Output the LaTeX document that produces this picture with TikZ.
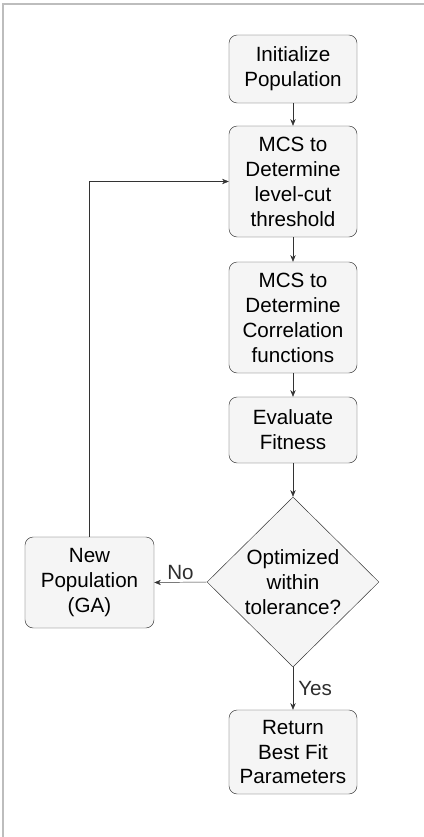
\documentclass[tikz,border=0pt]{standalone}
\usepackage{fontspec}
\setmainfont{Liberation Sans}
\usetikzlibrary{arrows.meta,positioning,shapes.geometric}
\definecolor{ink}{HTML}{333333}
\definecolor{paper}{HTML}{F5F5F5}
\definecolor{rule}{HTML}{BDBDBD}
\tikzset{
  stepbox/.style={draw=ink, rounded corners=7pt, fill=paper, align=center,
    inner sep=0pt, minimum width=3.84cm, font=\fontsize{17.6}{21.3}\selectfont},
  testbox/.style={draw=ink, diamond, fill=paper, align=center, inner sep=0pt,
    minimum width=5.16cm, minimum height=5.1cm, font=\fontsize{17.6}{21.3}\selectfont},
  flowarrow/.style={-{Stealth[length=2mm,width=1.6mm]}, draw=ink, thin},
  note/.style={font=\fontsize{17.6}{21.3}\selectfont, text=ink!90!black}
}
\begin{document}
\begin{tikzpicture}[x=0.03cm,y=-0.03cm]
  \useasboundingbox (0,0) rectangle (424,837);
  % frame edges
  \draw[rule, line width=1.2pt] (3,837) -- (3,4) -- (424,4);

  % main column
  \node[stepbox, minimum height=2.04cm] (init) at (293,69) {Initialize\\Population};
  \node[stepbox, minimum height=3.33cm] (mcsa) at (293,181.5)
    {MCS to\\Determine\\level-cut\\threshold};
  \node[stepbox, minimum height=3.33cm] (mcsb) at (293,317.5)
    {MCS to\\Determine\\Correlation\\functions};
  \node[stepbox, minimum height=1.98cm] (eval) at (293,430) {Evaluate\\Fitness};
  \node[testbox] (opt) at (293,582) {Optimized\\within\\tolerance?};
  \node[stepbox, minimum height=2.52cm] (ret) at (293,752)
    {Return\\Best Fit\\Parameters};

  % side branch
  \node[stepbox, minimum width=3.87cm, minimum height=2.73cm] (newpop) at (89.5,582.5)
    {New\\Population\\(GA)};

  \draw[flowarrow] (init) -- (mcsa);
  \draw[flowarrow] (mcsa) -- (mcsb);
  \draw[flowarrow] (mcsb) -- (eval);
  \draw[flowarrow] (eval) -- (opt);
  \draw[flowarrow] (opt.west) -- node[note, above, yshift=-1pt]{No} (newpop.east);
  \draw[flowarrow] (opt.south) -- node[note, right, xshift=1pt]{Yes} (ret.north);
  \draw[flowarrow] (newpop.north) |- (mcsa.west);
\end{tikzpicture}
\end{document}
